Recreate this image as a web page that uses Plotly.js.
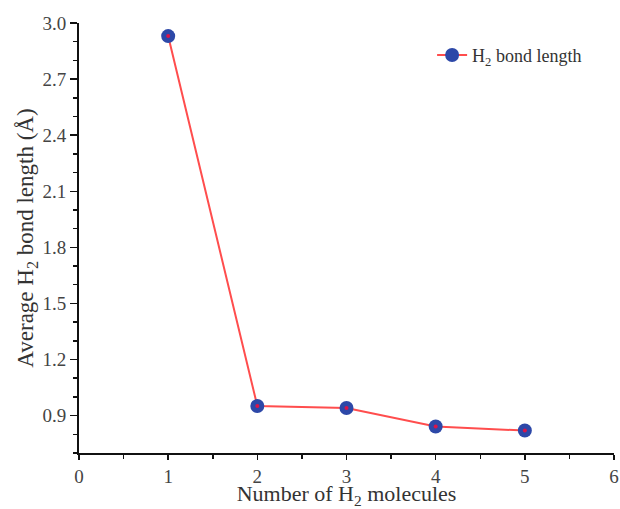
<!DOCTYPE html>
<html>
<head>
<meta charset="utf-8">
<script src="https://cdn.plot.ly/plotly-3.0.1.min.js"></script>
<style>html,body{margin:0;padding:0;background:#fff;}</style>
</head>
<body>
<div id="chart" style="width:620px;height:509px;"></div>
<script>
const molecules = [1, 2, 3, 4, 5];
const bondLength = [2.93, 0.951, 0.941, 0.842, 0.820];
const seriesName = "H<sub>2</sub> bond length";

const font = "Liberation Serif, Times New Roman, serif";

const traces = [
  {
    x: molecules, y: bondLength, type: "scatter", mode: "lines+markers",
    name: seriesName,
    line: {color: "#ff4d4d", width: 2},
    marker: {color: "#2d48a8", size: 14}
  },
  {
    x: molecules, y: bondLength, type: "scatter", mode: "markers",
    showlegend: false, hoverinfo: "skip",
    marker: {color: "#d9144a", size: 4}
  }
];

const axisCommon = {
  showline: true, linecolor: "#111", linewidth: 2,
  ticks: "outside", ticklen: 7, tickwidth: 1.5, tickcolor: "#111",
  showgrid: false, zeroline: false, automargin: false,
  tickfont: {family: font, size: 19, color: "#444"}
};

const layout = {
  width: 620, height: 509,
  margin: {l: 79, r: 6, t: 23, b: 56},
  paper_bgcolor: "#fff", plot_bgcolor: "#fff",
  font: {family: font, color: "#333"},
  xaxis: Object.assign({}, axisCommon, {
    range: [0, 6], tick0: 0, dtick: 1, ticklen: 5,
    minor: {dtick: 0.5, ticks: "outside", ticklen: 4, tickwidth: 1.5, tickcolor: "#111"},
    title: {text: "Number of H<sub>2</sub> molecules", font: {family: font, size: 22, color: "#333"}, standoff: 9}
  }),
  yaxis: Object.assign({}, axisCommon, {
    range: [0.7, 3.0], tick0: 0.9, dtick: 0.3, tickformat: ".1f",
    minor: {dtick: 0.1, tick0: 0.9, ticks: "outside", ticklen: 4, tickwidth: 1.5, tickcolor: "#111"},
    title: {text: "Average H<sub>2</sub> bond length (Å)", font: {family: font, size: 23, color: "#333"}, standoff: 2}
  }),
  legend: {
    x: 0.66, y: 0.925, xanchor: "left", yanchor: "middle",
    bgcolor: "rgba(0,0,0,0)",
    font: {family: font, size: 18, color: "#333"}
  },
  showlegend: true
};

Plotly.newPlot("chart", traces, layout, {staticPlot: true});
</script>
</body>
</html>
